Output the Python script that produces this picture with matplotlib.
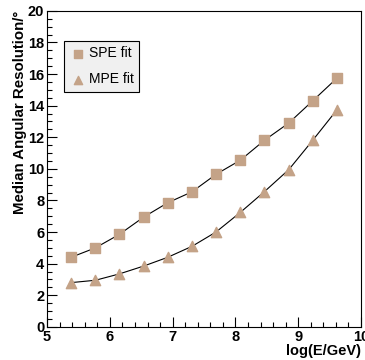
import numpy as np
import matplotlib.pyplot as plt
from matplotlib.ticker import MultipleLocator

# data
log_e = [5.38, 5.77, 6.15, 6.54, 6.92, 7.31, 7.69, 8.08, 8.46, 8.85, 9.23, 9.62]
spe = [4.4, 5.0, 5.85, 6.95, 7.85, 8.55, 9.65, 10.55, 11.8, 12.9, 14.3, 15.75]
mpe = [2.8, 2.95, 3.35, 3.85, 4.4, 5.1, 6.0, 7.25, 8.55, 9.95, 11.8, 13.75]

plt.rcParams['font.family'] = ['Liberation Sans', 'DejaVu Sans']
col = '#c4a388'

fig = plt.figure(figsize=(3.65, 3.6), dpi=100)
ax = fig.add_axes([0.129, 0.092, 0.860, 0.878])

ax.plot(log_e, spe, color='black', lw=0.8, zorder=1)
ax.plot(log_e, mpe, color='black', lw=0.8, zorder=1)
ax.scatter(log_e, spe, marker='s', s=55, color=col, zorder=2, label='SPE fit')
ax.scatter(log_e, mpe, marker='^', s=55, color=col, zorder=2, label='MPE fit')

ax.set_xlim(5, 10)
ax.set_ylim(0, 20)
ax.xaxis.set_major_locator(MultipleLocator(1))
ax.xaxis.set_minor_locator(MultipleLocator(0.2))
ax.yaxis.set_major_locator(MultipleLocator(2))
ax.yaxis.set_minor_locator(MultipleLocator(0.5))
ax.tick_params(which='both', direction='in', top=False, right=False,
               labelsize=10.5, pad=2)
ax.tick_params(which='major', length=7, width=0.8)
ax.tick_params(which='minor', length=3.5, width=0.8)
for lab in ax.get_xticklabels() + ax.get_yticklabels():
    lab.set_fontweight('bold')
for s in ax.spines.values():
    s.set_linewidth(0.8)

ax.set_xlabel('log(E/GeV)', fontsize=10.5, fontweight='bold', loc='right', labelpad=0)
ax.set_ylabel('Median Angular Resolution/°', fontsize=10.8, fontweight='bold',
              loc='top', labelpad=1)

leg = ax.legend(loc='upper left', bbox_to_anchor=(0.054, 0.905), fontsize=10,
                fancybox=False, framealpha=1, handletextpad=0.2, borderaxespad=0,
                borderpad=0.4, labelspacing=0.85, handlelength=1.2, markerscale=0.8)
leg.get_frame().set_facecolor('#f0f0f0')
leg.get_frame().set_edgecolor('black')
leg.get_frame().set_linewidth(0.8)

fig.savefig('out.png', dpi=100)
